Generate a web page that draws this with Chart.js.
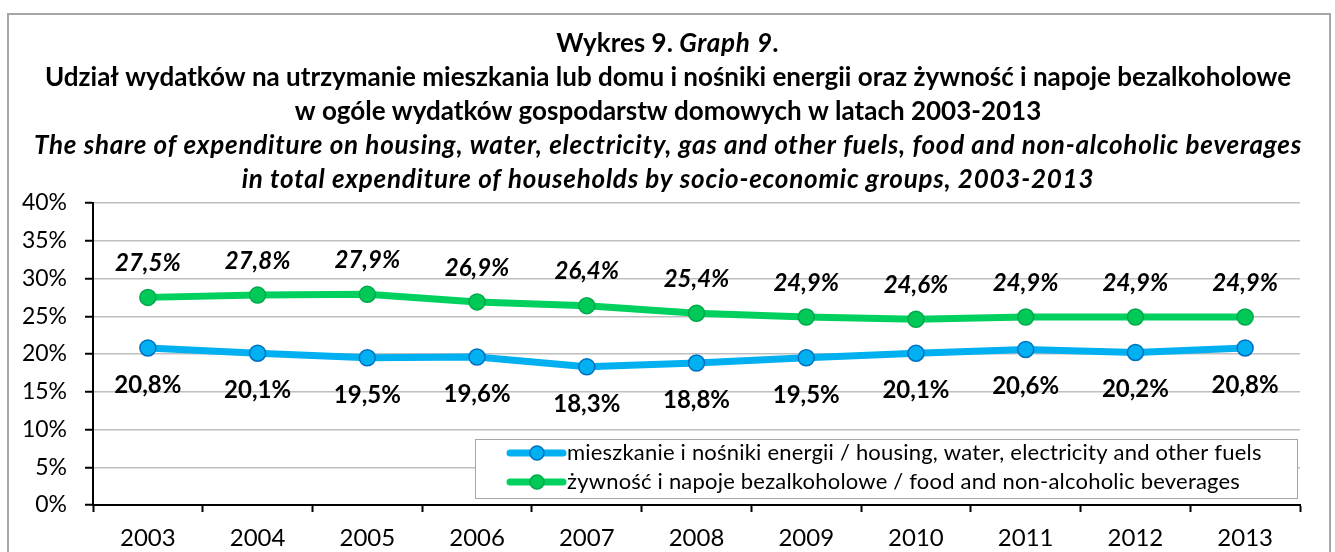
<!DOCTYPE html>
<html>
<head>
<meta charset="utf-8">
<script src="https://cdn.jsdelivr.net/npm/chart.js@4/dist/chart.umd.min.js"></script>
<style>
  html, body { margin: 0; padding: 0; background: #fff; }
  #wrap { width: 1335px; height: 552px; }
</style>
</head>
<body>
<div id="wrap"><canvas id="myChart" width="1335" height="552"></canvas></div>
<script>
// data
const years = ['2003', '2004', '2005', '2006', '2007', '2008', '2009', '2010', '2011', '2012', '2013'];
const housing = [20.8, 20.1, 19.5, 19.6, 18.3, 18.8, 19.5, 20.1, 20.6, 20.2, 20.8];
const food = [27.5, 27.8, 27.9, 26.9, 26.4, 25.4, 24.9, 24.6, 24.9, 24.9, 24.9];
const seriesNames = [
  'mieszkanie i nośniki energii / housing, water, electricity and other fuels',
  'żywność i napoje bezalkoholowe / food and non-alcoholic beverages'
];
const yTicks = { min: 0, max: 40, step: 5 };

// title lines, each made of parts with own style
const titleLines = [
  [{ t: 'Wykres 9. ', s: 'bold' }, { t: 'Graph 9.', s: 'italic bold' }],
  [{ t: 'Udział wydatków na utrzymanie mieszkania lub domu i nośniki energii oraz żywność i napoje bezalkoholowe', s: 'bold' }],
  [{ t: 'w ogóle wydatków gospodarstw domowych w latach 2003-2013', s: 'bold' }],
  [{ t: 'The share of expenditure on housing, water, electricity, gas and other fuels, food and non-alcoholic beverages', s: 'italic bold' }],
  [{ t: 'in total expenditure of households by socio-economic groups, 2003-2013', s: 'italic bold' }]
];

const FONT = 'Lato, "Open Sans", sans-serif';

//frame + titles
const framePlugin = {
  id: 'frame',
  beforeDraw(chart) {
    const c = chart.ctx;
    c.save();
    c.fillStyle = '#fff';
    c.fillRect(0, 0, chart.width, chart.height);
    c.strokeStyle = '#A6A6A6';
    c.lineWidth = 2;
    c.strokeRect(8, 14, 1322, 560);
    c.restore();
  },
  afterDraw(chart) {
    const c = chart.ctx;
    c.save();
    c.fillStyle = '#000';
    c.textBaseline = 'middle';
    const ys = [44, 78, 112, 146, 180];
    //italic Lato runs narrower than the original, so space it out a bit
    const setFont = p => {
      c.font = p.s + ' 26px ' + FONT;
      c.letterSpacing = p.s.indexOf('italic') >= 0 ? '0.75px' : '0px';
    };
    titleLines.forEach((parts, i) => {
      let total = 0;
      parts.forEach(p => { setFont(p); total += c.measureText(p.t).width; });
      let x = 668 - total / 2;
      parts.forEach(p => {
        setFont(p);
        c.textAlign = 'left';
        c.fillText(p.t, x, ys[i]);
        x += c.measureText(p.t).width;
      });
    });
    c.restore();
  }
};

//value labels next to every point
const labelPlugin = {
  id: 'valueLabels',
  afterDatasetsDraw(chart) {
    const c = chart.ctx;
    c.save();
    c.fillStyle = '#000';
    c.textAlign = 'center';
    c.textBaseline = 'middle';
    chart.data.datasets.forEach((ds, i) => {
      const meta = chart.getDatasetMeta(i);
      meta.data.forEach((pt, j) => {
        const txt = ds.data[j].toFixed(1).replace('.', ',') + '%';
        if (ds.labelPos === 'above') {
          c.font = 'italic bold 24px ' + FONT;
          c.fillText(txt, pt.x, pt.y - 34);
        } else {
          c.font = 'bold 24px ' + FONT;
          c.fillText(txt, pt.x, pt.y + 37);
        }
      });
    });
    c.restore();
  }
};

//legend box inside the plot
const legendPlugin = {
  id: 'boxLegend',
  afterDraw(chart) {
    const c = chart.ctx;
    c.save();
    c.fillStyle = '#fff';
    c.fillRect(475, 439, 822, 59);
    c.strokeStyle = '#A6A6A6';
    c.lineWidth = 1;
    c.strokeRect(475.5, 439.5, 822, 59);
    const rows = [453, 482];
    chart.data.datasets.forEach((ds, i) => {
      const y = rows[i];
      c.strokeStyle = ds.borderColor;
      c.lineWidth = 7;
      c.lineCap = 'round';
      c.beginPath();
      c.moveTo(510, y);
      c.lineTo(563, y);
      c.stroke();
      c.beginPath();
      c.arc(537, y, 7, 0, Math.PI * 2);
      c.fillStyle = ds.pointBackgroundColor;
      c.fill();
      c.lineWidth = 1.5;
      c.strokeStyle = ds.pointBorderColor;
      c.stroke();
      c.fillStyle = '#000';
      c.font = '22px ' + FONT;
      c.letterSpacing = '0.2px';
      c.textAlign = 'left';
      c.textBaseline = 'middle';
      c.fillText(ds.label, 567, y);
    });
    c.restore();
  }
};

let ctx = document.getElementById('myChart').getContext('2d');
let chart = new Chart(ctx, {
  type: 'line',
  data: {
    labels: years,
    datasets: [
      {
        label: seriesNames[0],
        data: housing,
        borderColor: '#00B0F0',
        borderWidth: 7,
        pointRadius: 8,
        pointBorderWidth: 1.5,
        pointBackgroundColor: '#00B0F0',
        pointBorderColor: '#0070C0',
        labelPos: 'below'
      },
      {
        label: seriesNames[1],
        data: food,
        borderColor: '#00D15E',
        borderWidth: 7,
        pointRadius: 8,
        pointBorderWidth: 1.5,
        pointBackgroundColor: '#00C957',
        pointBorderColor: '#00A84A',
        labelPos: 'above'
      }
    ]
  },
  options: {
    responsive: false,
    animation: false,
    layout: { padding: { top: 203, right: 35, left: 0, bottom: 0 } },
    plugins: {
      legend: { display: false },
      title: { display: false },
      tooltip: { enabled: false }
    },
    scales: {
      x: {
        offset: true,
        grid: {
          offset: true,
          drawOnChartArea: false,
          drawTicks: true,
          tickLength: 7,
          tickColor: '#000',
          tickWidth: 2
        },
        border: { color: '#000', width: 2 },
        ticks: { color: '#000', font: { family: FONT, size: 24 }, padding: 12, maxRotation: 0 },
        afterFit(scale) { scale.height = 47; }
      },
      y: {
        min: yTicks.min,
        max: yTicks.max,
        ticks: {
          stepSize: yTicks.step,
          color: '#000',
          font: { family: FONT, size: 23 },
          padding: 18,
          callback: v => v + '%'
        },
        grid: {
          color: '#BFBFBF',
          lineWidth: 1.5,
          tickLength: 8,
          tickColor: '#000',
          tickWidth: 2
        },
        border: { color: '#000', width: 2 },
        afterFit(scale) { scale.width = 93; }
      }
    }
  },
  plugins: [framePlugin, labelPlugin, legendPlugin]
});
</script>
</body>
</html>
